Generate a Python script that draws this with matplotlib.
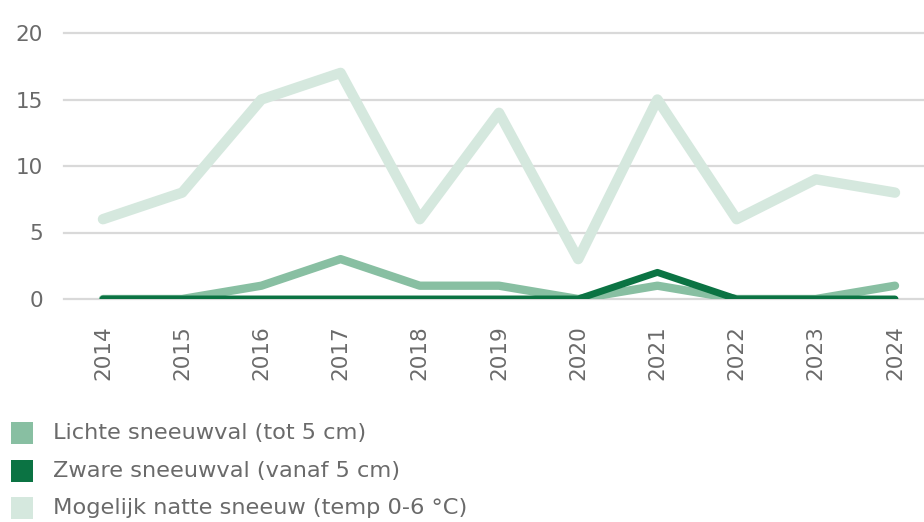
"""Sneeuwdagen per jaar: lichte, zware en mogelijk natte sneeuw (2014-2024)."""

import matplotlib

matplotlib.use("Agg")
import matplotlib.pyplot as plt
from matplotlib.patches import Rectangle

years = [2014, 2015, 2016, 2017, 2018, 2019, 2020, 2021, 2022, 2023, 2024]
lichte = [0, 0, 1, 3, 1, 1, 0, 1, 0, 0, 1]
zware = [0, 0, 0, 0, 0, 0, 0, 2, 0, 0, 0]
natte = [6, 8, 15, 17, 6, 14, 3, 15, 6, 9, 8]

labels = [
    "Lichte sneeuwval (tot 5 cm)",
    "Zware sneeuwval (vanaf 5 cm)",
    "Mogelijk natte sneeuw (temp 0-6 °C)",
]
colors = ["#88bfa2", "#0b7343", "#d5e8de"]
yticks = [0, 5, 10, 15, 20]

TEXT = "#6a6a6a"
GRID = "#d9d9d9"
W, H = 924, 522
FS = 15.5

plt.rcParams["font.family"] = ["DejaVu Sans"]

fig = plt.figure(figsize=(W / 100, H / 100), dpi=100)
ax = fig.add_axes([64 / W, 1 - 299 / H, 860 / W, 266 / H])

for y in yticks:
    ax.axhline(y, color=GRID, lw=1.6, zorder=0, clip_on=False)

line_kw = dict(solid_capstyle="round", solid_joinstyle="round")
ax.plot(years, natte, color=colors[2], lw=7.5, zorder=2, **line_kw)
ax.plot(years, lichte, color=colors[0], lw=6, zorder=3, **line_kw)
ax.plot(years, zware, color=colors[1], lw=5, zorder=4, **line_kw)

ax.set_xlim(2013.508, 2024.366)
ax.set_ylim(0, 20)
ax.set_yticks(yticks)
ax.set_xticks(years)
ax.set_xticklabels([str(y) for y in years], rotation=90)
ax.tick_params(axis="both", length=0, colors=TEXT, labelsize=FS)
ax.tick_params(axis="y", pad=15)
ax.tick_params(axis="x", pad=19)
for s in ax.spines.values():
    s.set_visible(False)

# legenda onder de grafiek
for i, (lab, col) in enumerate(zip(labels, colors)):
    yc = 433 + i * 37.5
    fig.add_artist(Rectangle((11 / W, 1 - (yc + 11) / H), 22 / W, 22 / H,
                             transform=fig.transFigure, color=col, lw=0))
    fig.text(53 / W, 1 - yc / H, lab, color=TEXT, fontsize=16.2,
             va="center", ha="left")

fig.savefig("out.png", dpi=100)
